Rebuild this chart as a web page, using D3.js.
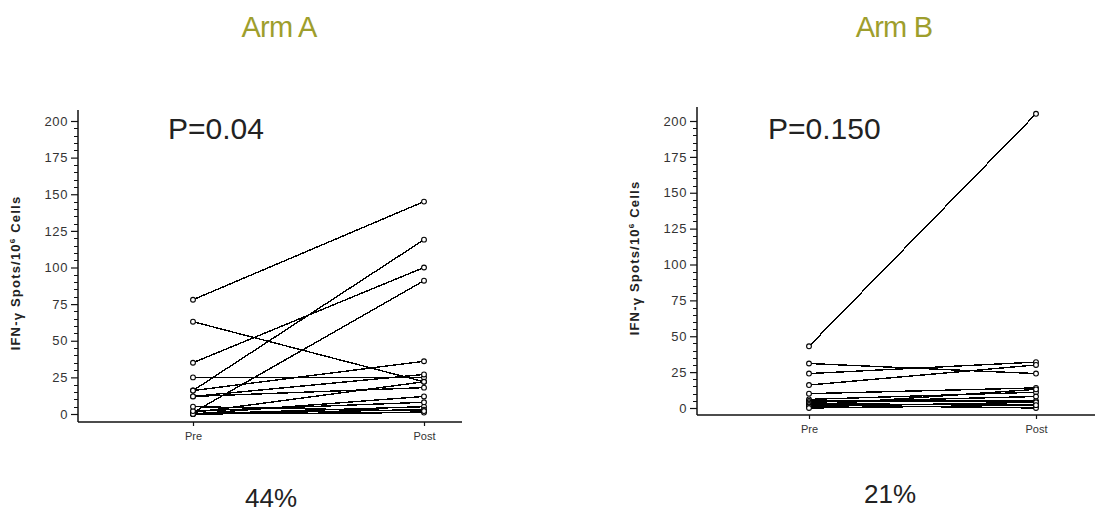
<!DOCTYPE html>
<html>
<head>
<meta charset="utf-8">
<script src="https://cdn.jsdelivr.net/npm/d3@7"></script>
<style>
  body { margin: 0; background: #fff; }
  text { font-family: Arial, "Liberation Sans", sans-serif; }
</style>
</head>
<body>
<script>
const svgWidth = 1112;
const svgHeight = 513;

// data
const categories = ["Pre", "Post"];
const yTicks = [0, 25, 50, 75, 100, 125, 150, 175, 200];
const armAPre = [78, 63, 35, 16, 1, 25, 16, 12, 12, 1, 0, 0, 0, 0, 2, 5];
const armAPost = [145, 22, 100, 119, 91, 25, 36, 27, 18, 22, 12, 5, 3, 1, 8, 2];
const armBPre = [43, 31, 24, 16, 10, 6, 5, 4, 3, 2, 2, 1, 0];
const armBPost = [205, 24, 32, 30, 14, 11, 5, 8, 2, 13, 0, 4, 2];

const panels = [
    {title: "Arm A", p: "P=0.04", pct: "44%", pre: armAPre, post: armAPost,
     axisX: 78, xRange: [193, 424], yRange: [414, 121], axisY: 422, axisTop: 110, axisEnd: 462,
     titleX: 279, pX: 168, pctX: 271, pctY: 507, labelX: 20, labelY: 273},
    {title: "Arm B", p: "P=0.150", pct: "21%", pre: armBPre, post: armBPost,
     axisX: 697, xRange: [809, 1036], yRange: [408, 121], axisY: 415, axisTop: 107, axisEnd: 1095,
     titleX: 894, pX: 768, pctX: 890, pctY: 503, labelX: 639, labelY: 258}
];

const svg = d3.select("body").append("svg").attr("width", svgWidth).attr("height", svgHeight);

panels.forEach(drawPanel);

function drawPanel(cfg) {
    const g = svg.append("g");
    const x = d3.scalePoint().domain(categories).range(cfg.xRange);
    const y = d3.scaleLinear().domain([0, 200]).range(cfg.yRange);

    // title
    g.append("text")
        .attr("x", cfg.titleX).attr("y", 37)
        .attr("text-anchor", "middle")
        .attr("font-size", 29)
        .attr("letter-spacing", -0.8)
        .attr("fill", "#9e9e2c")
        .text(cfg.title);

    // minor ticks every 5
    const minor = d3.range(0, 201, 5).filter(v => v % 25 !== 0);
    g.selectAll(".minor")
        .data(minor)
        .join("line")
        .attr("class", "minor")
        .attr("x1", cfg.axisX - 4).attr("x2", cfg.axisX)
        .attr("y1", d => Math.round(y(d)) + 0.5).attr("y2", d => Math.round(y(d)) + 0.5)
        .attr("stroke", "#111")
        .attr("stroke-width", 1);

    const yAxis = g.append("g")
        .attr("transform", `translate(${cfg.axisX},0)`)
        .call(d3.axisLeft(y).tickValues(yTicks).tickSize(7).tickPadding(3));
    yAxis.select(".domain").attr("d", `M0,${cfg.axisTop}V${cfg.axisY}`)
        .attr("stroke", "#111").attr("stroke-width", 1.5);
    yAxis.selectAll(".tick line").attr("stroke", "#111").attr("stroke-width", 1.2);
    yAxis.selectAll(".tick text").attr("font-size", 13).attr("fill", "#333")
        .attr("letter-spacing", 0.6)
        .attr("font-family", "Arial, 'Liberation Sans', sans-serif");

    // x axis
    const xAxis = g.append("g")
        .attr("transform", `translate(0,${cfg.axisY})`)
        .call(d3.axisBottom(x).tickSize(4).tickPadding(6));
    xAxis.select(".domain").attr("d", `M${cfg.axisX},0H${cfg.axisEnd}`)
        .attr("stroke", "#111").attr("stroke-width", 1.5);
    xAxis.selectAll(".tick line").attr("stroke", "#111").attr("stroke-width", 1.2);
    xAxis.selectAll(".tick text").attr("font-size", 11).attr("fill", "#333")
        .attr("font-family", "Arial, 'Liberation Sans', sans-serif");

    // y label
    const label = g.append("text")
        .attr("transform", `translate(${cfg.labelX},${cfg.labelY}) rotate(-90)`)
        .attr("text-anchor", "middle")
        .attr("font-size", 13)
        .attr("letter-spacing", 1.2)
        .attr("font-weight", "bold")
        .attr("fill", "#222");
    label.append("tspan").text("IFN-");
    label.append("tspan").attr("dy", 2).text("γ");
    label.append("tspan").attr("dy", -2).text(" Spots/10");
    label.append("tspan").attr("dy", -5).attr("font-size", 8).text("6");
    label.append("tspan").attr("dy", 5).text(" Cells");

    // P value
    g.append("text")
        .attr("x", cfg.pX).attr("y", 139)
        .attr("font-size", 30)
        .attr("fill", "#222")
        .text(cfg.p);

    // percentage
    g.append("text")
        .attr("x", cfg.pctX).attr("y", cfg.pctY)
        .attr("text-anchor", "middle")
        .attr("font-size", 26)
        .attr("fill", "#222")
        .text(cfg.pct);

    // paired lines
    const pairs = cfg.pre.map((v, i) => ({pre: v, post: cfg.post[i]}));
    g.selectAll(".pair")
        .data(pairs)
        .join("line")
        .attr("class", "pair")
        .attr("x1", x("Pre")).attr("y1", d => y(d.pre))
        .attr("x2", x("Post")).attr("y2", d => y(d.post))
        .attr("stroke", "black")
        .attr("stroke-width", 1.4)
        .attr("shape-rendering", "crispEdges");

    const points = pairs.flatMap(d => [{c: "Pre", v: d.pre}, {c: "Post", v: d.post}]);
    g.selectAll(".dot")
        .data(points)
        .join("circle")
        .attr("class", "dot")
        .attr("cx", d => x(d.c))
        .attr("cy", d => y(d.v))
        .attr("r", 2.4)
        .attr("fill", "white")
        .attr("stroke", "black")
        .attr("stroke-width", 1.1);
}
</script>
</body>
</html>
